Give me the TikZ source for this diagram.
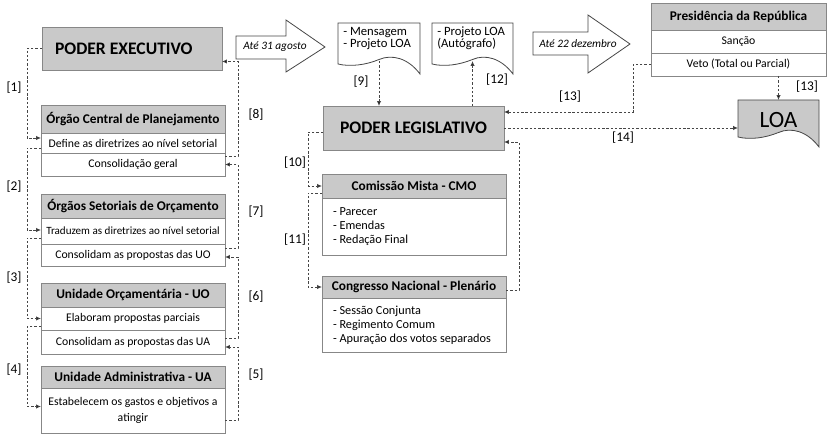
\documentclass[tikz,border=0pt]{standalone}
\usepackage{fontspec}
\setmainfont{Carlito}
\usetikzlibrary{arrows.meta,calc,backgrounds}

% one drawing unit = 0.75pt, y grows downwards
\newcommand\pu[1]{#1*0.75pt}
\definecolor{hdrgray}{RGB}{201,201,201}
\definecolor{bordgray}{RGB}{135,135,135}
\definecolor{linegray}{RGB}{70,70,70}

\tikzset{
  cell/.style={draw=bordgray, line width=0.6pt, inner sep=0pt, outer sep=0pt, anchor=north west, align=center},
  bigbox/.style={cell, fill=hdrgray, font=\bfseries\fontsize{13.2}{15}\selectfont},
  hdrbox/.style={cell, fill=hdrgray, font=\bfseries\fontsize{10}{12}\selectfont},
  rowbox/.style={cell, fill=white, font=\fontsize{8.8}{10.5}\selectfont},
  listbox/.style={cell, fill=white, align=flush left, font=\fontsize{9.2}{10.5}\selectfont},
  conn/.style={draw=linegray, line width=0.6pt, dash pattern=on 1.8pt off 1.4pt,
    -{Latex[length=3.6pt,width=3.2pt,fill=black]}},
  tag/.style={font=\fontsize{10}{12}\selectfont, inner sep=0pt},
  shapeline/.style={draw=linegray, line width=0.6pt, line join=miter},
  doctext/.style={font=\fontsize{9.5}{9}\selectfont, align=flush left, anchor=north west, inner sep=0pt},
  arrowtext/.style={font=\itshape\fontsize{8.5}{10}\selectfont, inner sep=0pt},
}

\begin{document}
\begin{tikzpicture}[x=0.75pt, y=-0.75pt]
\useasboundingbox (0,0) rectangle (828,434);

% ---------------- executive chain ----------------
\node[bigbox, minimum width=\pu{180}, minimum height=\pu{43}, text width=\pu{154}, align=flush left] (pe) at (42,27) {PODER EXECUTIVO};

\node[hdrbox, minimum width=\pu{184}, minimum height=\pu{28}] (ocp) at (41,105) {Órgão Central de Planejamento};
\node[rowbox, minimum width=\pu{184}, minimum height=\pu{20}] (ocp1) at (41,133) {Define as diretrizes ao nível setorial};
\node[rowbox, minimum width=\pu{184}, minimum height=\pu{23}] (ocp2) at (41,153) {Consolidação geral};

\node[hdrbox, minimum width=\pu{184}, minimum height=\pu{24}] (osh) at (41,194) {Órgãos Setoriais de Orçamento};
\node[rowbox, minimum width=\pu{184}, minimum height=\pu{26}, font=\fontsize{8.3}{10}\selectfont] (os1) at (41,218) {Traduzem as diretrizes ao nível setorial};
\node[rowbox, minimum width=\pu{184}, minimum height=\pu{22}] (os2) at (41,244) {Consolidam as propostas das UO};

\node[hdrbox, minimum width=\pu{184}, minimum height=\pu{24}] (uoh) at (41,283) {Unidade Orçamentária - UO};
\node[rowbox, minimum width=\pu{184}, minimum height=\pu{23}] (uo1) at (41,307) {Elaboram propostas parciais};
\node[rowbox, minimum width=\pu{184}, minimum height=\pu{24}] (uo2) at (41,330) {Consolidam as propostas das UA};

\node[hdrbox, minimum width=\pu{184}, minimum height=\pu{22}] (uah) at (41,366) {Unidade Administrativa - UA};
\node[rowbox, minimum width=\pu{184}, minimum height=\pu{45}] (ua1) at (41,388) {Estabelecem os gastos e objetivos a\\[1pt]atingir};

% downward flow on the left
\draw[conn] (pe.west) -- ++(-15,0) |- ($(ocp1.west)+(0,-5)$);
\draw[conn] ($(ocp1.west)+(0,5)$) -- ++(-14,0) |- ($(os1.west)+(0,-1)$);
\draw[conn] ($(os1.west)+(0,7)$) -- ++(-14,0) |- (uo1.west);
\draw[conn] ($(uo1.west)+(0,8)$) -- ++(-14,0) |- ($(ua1.west)+(0,-4)$);

% upward consolidation on the right
\draw[conn] ($(ua1.east)+(0,10)$) -- ++(13,0) |- ($(uo2.east)+(0,5)$);
\draw[conn] ($(uo2.east)+(0,-4)$) -- ++(13,0) |- ($(os2.east)+(0,2)$);
\draw[conn] ($(os2.east)+(0,-7)$) -- ++(13,0) |- (ocp2.east);
\draw[conn] ($(ocp2.east)+(0,-8)$) -- ++(13,0) |- ($(pe.east)+(0,13)$);

\node[tag] (t1) at (14,88) {[1]};
\node[tag] (t2) at (14,187) {[2]};
\node[tag] (t3) at (14,278) {[3]};
\node[tag] (t4) at (14,370) {[4]};
\node[tag] (t8) at (256,115) {[8]};
\node[tag] (t7) at (256,212) {[7]};
\node[tag] (t6) at (256,297) {[6]};
\node[tag] (t5) at (256,375) {[5]};

% ---------------- block arrows ----------------
\draw[shapeline, fill=white] (236,36) -- (286,36) -- (286,20) -- (325,47) -- (286,72) -- (286,59) -- (236,59) -- cycle;
\node[arrowtext] (a1) at (275,47) {Até 31 agosto};

\draw[shapeline, fill=white] (533,32) -- (588,32) -- (588,15) -- (630,44) -- (588,73) -- (588,55) -- (533,55) -- cycle;
\node[arrowtext] (a2) at (578,44) {Até 22 dezembro};

% ---------------- documents ----------------
\node[minimum width=\pu{82}, minimum height=\pu{38}, inner sep=0pt, outer sep=0pt, anchor=north west] (msg) at (338,23) {};
\node[minimum width=\pu{81}, minimum height=\pu{38}, inner sep=0pt, outer sep=0pt, anchor=north west] (aut) at (432,23) {};
\node[minimum width=\pu{81}, minimum height=\pu{40}, inner sep=0pt, outer sep=0pt, anchor=north west,
      font=\fontsize{17.5}{20}\selectfont] (loa) at (738,100) {LOA};
\begin{pgfonlayer}{background}
  \draw[shapeline, fill=white] (338,23) -- (420,23) -- (420,74)
    .. controls (408,58) and (392,54) .. (379,59.5)
    .. controls (366,65) and (350,67) .. (338,64) -- cycle;
  \draw[shapeline, fill=white] (432,23) -- (513,23) -- (513,74)
    .. controls (501,58) and (485,54) .. (472.5,59.5)
    .. controls (459,65) and (444,67) .. (432,64) -- cycle;
  \draw[shapeline, fill=hdrgray] (738,100) -- (819,100) -- (819,147)
    .. controls (807,131) and (791,127) .. (778.5,132.5)
    .. controls (765,138) and (750,140) .. (738,137) -- cycle;
\end{pgfonlayer}
\node[doctext] (msgtxt) at (343,27) {- Mensagem\\- Projeto LOA};
\node[doctext] (auttxt) at (437,27) {- Projeto LOA\\(Autógrafo)};

% ---------------- legislative chain ----------------
\node[bigbox, minimum width=\pu{181}, minimum height=\pu{44}] (pl) at (323,106) {PODER LEGISLATIVO};

\node[hdrbox, minimum width=\pu{184}, minimum height=\pu{24}] (cmoh) at (322,174) {Comissão Mista - CMO};
\node[listbox, minimum width=\pu{184}, minimum height=\pu{57}, text width=\pu{162}] (cmob) at (322,198)
  {- Parecer\\- Emendas\\- Redação Final};

\node[hdrbox, minimum width=\pu{184}, minimum height=\pu{22}] (cnh) at (322,276) {Congresso Nacional - Plenário};
\node[listbox, minimum width=\pu{184}, minimum height=\pu{54}, text width=\pu{162}] (cnb) at (322,298)
  {- Sessão Conjunta\\- Regimento Comum\\- Apuração dos votos separados};

\draw[conn] (msg.south) -- (msg.south |- pl.north);
\draw[conn] (aut.south |- pl.north) -- (aut.south);
\draw[conn] ($(pl.west)+(0,4)$) -- ++(-15,0) |- (cmoh.west);
\draw[conn] ($(cmoh.west)+(0,7)$) -- ++(-14,0) |- (cnh.west);
\draw[conn] ($(cnh.east)+(0,3)$) -- ++(13,0) |- ($(pl.east)+(0,14)$);

\node[tag] (t9) at (361,82) {[9]};
\node[tag] (t12) at (497,80) {[12]};
\node[tag] (t10) at (295,163) {[10]};
\node[tag] (t11) at (295,240) {[11]};

% ---------------- presidency ----------------
\node[hdrbox, minimum width=\pu{175}, minimum height=\pu{27}] (prh) at (651,3) {Presidência da República};
\node[rowbox, minimum width=\pu{175}, minimum height=\pu{23}] (pr1) at (651,30) {Sanção};
\node[rowbox, minimum width=\pu{175}, minimum height=\pu{23}] (pr2) at (651,53) {Veto (Total ou Parcial)};

\draw[conn] (pr2.west) -- ++(-18,0) |- ($(pl.east)+(0,-16)$);
\draw[conn] (pr2.south -| loa.north) -- (loa.north);
\draw[conn] (pl.east) -- (pl.east -| loa.west);

\node[tag] (t13a) at (570,97) {[13]};
\node[tag] (t13b) at (807,87) {[13]};
\node[tag] (t14) at (623,138) {[14]};
\end{tikzpicture}
\end{document}
